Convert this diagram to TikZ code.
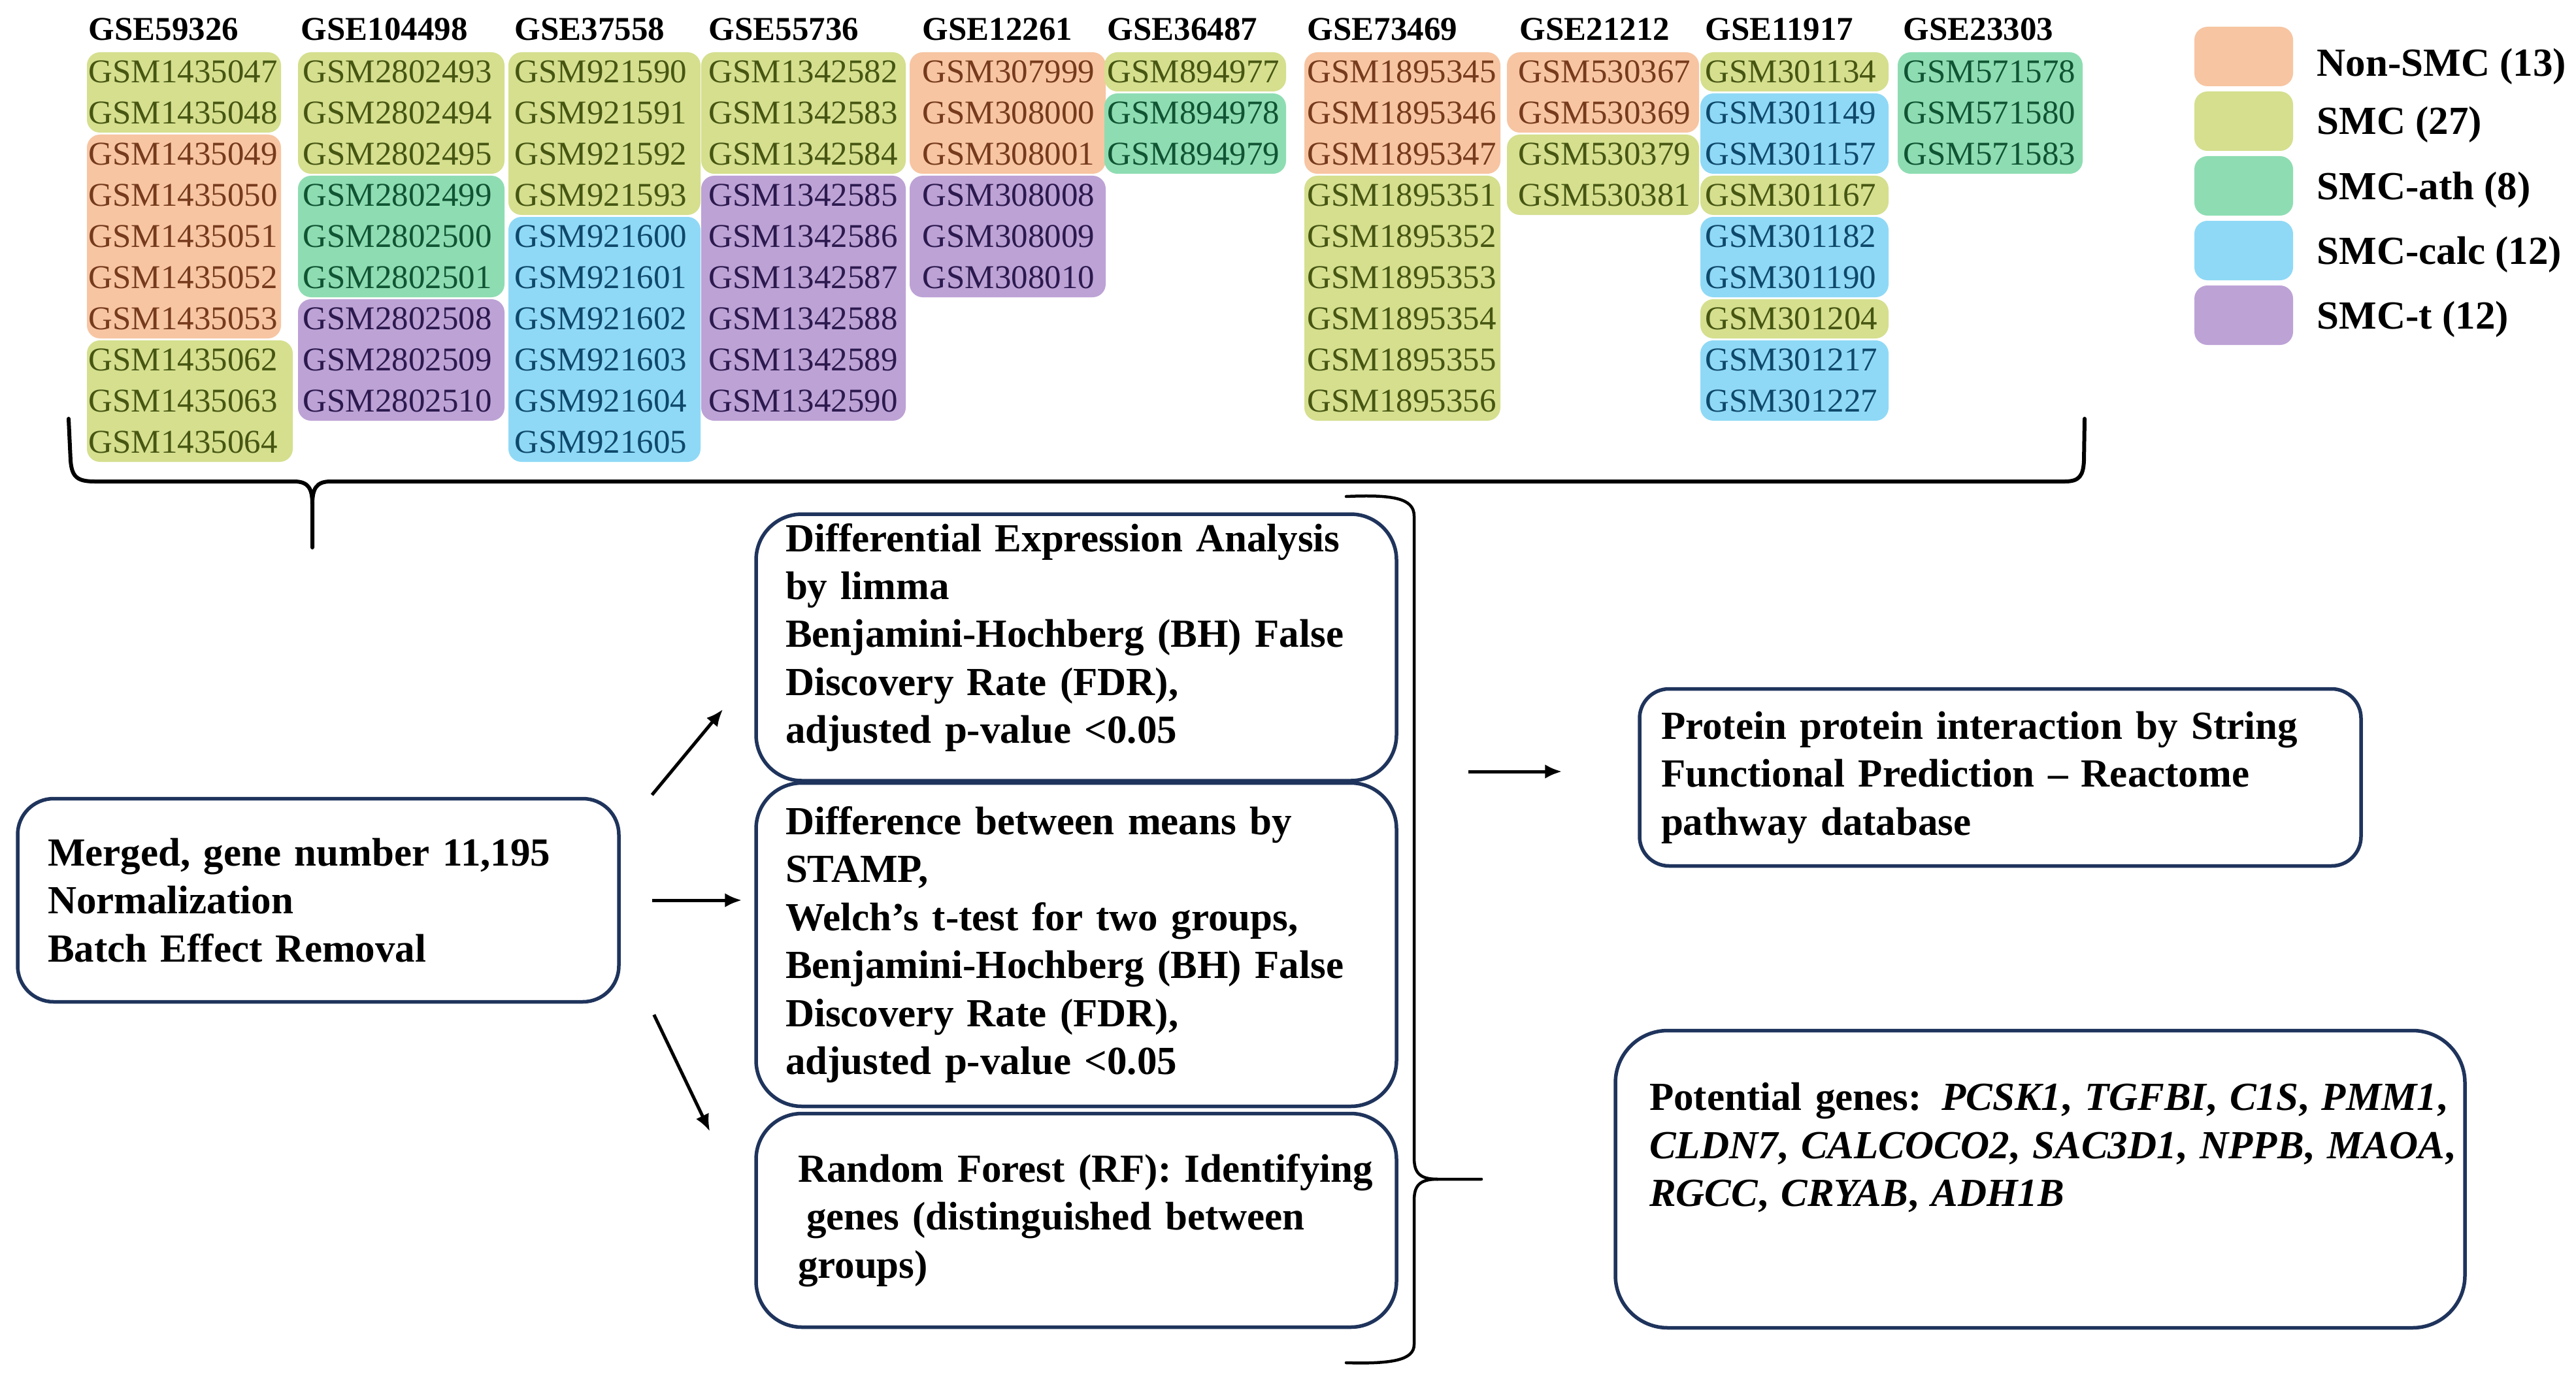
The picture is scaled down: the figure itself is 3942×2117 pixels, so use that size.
\documentclass[tikz,border=0pt]{standalone}
\usepackage{fontspec}
\setmainfont{Liberation Serif}
\usetikzlibrary{arrows.meta}

\definecolor{nonsmc}{RGB}{247,197,162}
\definecolor{smc}{RGB}{213,223,142}
\definecolor{smcath}{RGB}{142,221,178}
\definecolor{smccalc}{RGB}{143,217,246}
\definecolor{smct}{RGB}{189,162,214}
\definecolor{txtnonsmc}{RGB}{118,58,28}
\definecolor{txtsmc}{RGB}{70,86,18}
\definecolor{txtsmcath}{RGB}{16,84,52}
\definecolor{txtsmccalc}{RGB}{14,72,106}
\definecolor{txtsmct}{RGB}{44,26,78}
\definecolor{navy}{RGB}{31,52,92}

\newcommand\cellfont{\fontsize{14.5}{17}\selectfont}
\newcommand\boxfont{\fontsize{17.36}{20.9}\selectfont\bfseries}

\begin{document}
\begin{tikzpicture}[x=0.1mm, y=-0.1mm
    , cell/.style = {anchor=west, inner sep=0pt, font=\cellfont}
    , head/.style = {anchor=west, inner sep=0pt, font=\cellfont\bfseries}
    , hl/.style = {rounded corners=2mm}
    , stepbox/.style = {draw=navy, line width=0.55mm, rounded corners=#1, align=left, font=\boxfont, inner ysep=0pt}
    , stepbox/.default = 6mm
    , arr/.style = {-{Latex[length=2.6mm,width=2.2mm]}, line width=0.5mm}
    , bracepath/.style = {line width=0.6mm, line cap=round}
]
\fill[white] (0,0) rectangle (3942,2117);

% GSE59326
\node[head] (g1) at (135,45) {GSE59326};
\foreach \a/\b/\grp in {1/2/smc, 3/7/nonsmc}
    \fill[fill=\grp, hl] (133,{17+63*\a}) rectangle (430,{77+63*\b});
\fill[fill=smc, hl] (133,521) rectangle (448,707);
\foreach \gsm/\grp [count=\row] in {GSM1435047/smc, GSM1435048/smc, GSM1435049/nonsmc, GSM1435050/nonsmc, GSM1435051/nonsmc, GSM1435052/nonsmc, GSM1435053/nonsmc, GSM1435062/smc, GSM1435063/smc, GSM1435064/smc}
    \node[cell, text=txt\grp] (c1-\row) at (135,{47+63*\row}) {\gsm};

% GSE104498
\node[head] (g2) at (460,45) {GSE104498};
\foreach \a/\b/\grp in {1/3/smc, 4/6/smcath, 7/9/smct}
    \fill[fill=\grp, hl] (456,{17+63*\a}) rectangle (772,{77+63*\b});
\foreach \gsm/\grp [count=\row] in {GSM2802493/smc, GSM2802494/smc, GSM2802495/smc, GSM2802499/smcath, GSM2802500/smcath, GSM2802501/smcath, GSM2802508/smct, GSM2802509/smct, GSM2802510/smct}
    \node[cell, text=txt\grp] (c2-\row) at (463,{47+63*\row}) {\gsm};

% GSE37558
\node[head] (g3) at (787,45) {GSE37558};
\foreach \a/\b/\grp in {1/4/smc, 5/10/smccalc}
    \fill[fill=\grp, hl] (778,{17+63*\a}) rectangle (1072,{77+63*\b});
\foreach \gsm/\grp [count=\row] in {GSM921590/smc, GSM921591/smc, GSM921592/smc, GSM921593/smc, GSM921600/smccalc, GSM921601/smccalc, GSM921602/smccalc, GSM921603/smccalc, GSM921604/smccalc, GSM921605/smccalc}
    \node[cell, text=txt\grp] (c3-\row) at (787,{47+63*\row}) {\gsm};

% GSE55736
\node[head] (g4) at (1084,45) {GSE55736};
\foreach \a/\b/\grp in {1/3/smc, 4/9/smct}
    \fill[fill=\grp, hl] (1073,{17+63*\a}) rectangle (1386,{77+63*\b});
\foreach \gsm/\grp [count=\row] in {GSM1342582/smc, GSM1342583/smc, GSM1342584/smc, GSM1342585/smct, GSM1342586/smct, GSM1342587/smct, GSM1342588/smct, GSM1342589/smct, GSM1342590/smct}
    \node[cell, text=txt\grp] (c4-\row) at (1084,{47+63*\row}) {\gsm};

% GSE12261
\node[head] (g5) at (1411,45) {GSE12261};
\foreach \a/\b/\grp in {1/3/nonsmc, 4/6/smct}
    \fill[fill=\grp, hl] (1392,{17+63*\a}) rectangle (1692,{77+63*\b});
\foreach \gsm/\grp [count=\row] in {GSM307999/nonsmc, GSM308000/nonsmc, GSM308001/nonsmc, GSM308008/smct, GSM308009/smct, GSM308010/smct}
    \node[cell, text=txt\grp] (c5-\row) at (1411,{47+63*\row}) {\gsm};

% GSE36487
\node[head] (g6) at (1694,45) {GSE36487};
\foreach \a/\b/\grp in {1/1/smc, 2/3/smcath}
    \fill[fill=\grp, hl] (1690,{17+63*\a}) rectangle (1968,{77+63*\b});
\foreach \gsm/\grp [count=\row] in {GSM894977/smc, GSM894978/smcath, GSM894979/smcath}
    \node[cell, text=txt\grp] (c6-\row) at (1694,{47+63*\row}) {\gsm};

% GSE73469
\node[head] (g7) at (2000,45) {GSE73469};
\foreach \a/\b/\grp in {1/3/nonsmc, 4/9/smc}
    \fill[fill=\grp, hl] (1996,{17+63*\a}) rectangle (2296,{77+63*\b});
\foreach \gsm/\grp [count=\row] in {GSM1895345/nonsmc, GSM1895346/nonsmc, GSM1895347/nonsmc, GSM1895351/smc, GSM1895352/smc, GSM1895353/smc, GSM1895354/smc, GSM1895355/smc, GSM1895356/smc}
    \node[cell, text=txt\grp] (c7-\row) at (2000,{47+63*\row}) {\gsm};

% GSE21212
\node[head] (g8) at (2325,45) {GSE21212};
\foreach \a/\b/\grp in {1/2/nonsmc, 3/4/smc}
    \fill[fill=\grp, hl] (2306,{17+63*\a}) rectangle (2600,{77+63*\b});
\foreach \gsm/\grp [count=\row] in {GSM530367/nonsmc, GSM530369/nonsmc, GSM530379/smc, GSM530381/smc}
    \node[cell, text=txt\grp] (c8-\row) at (2323,{47+63*\row}) {\gsm};

% GSE11917
\node[head] (g9) at (2609,45) {GSE11917};
\foreach \a/\b/\grp in {1/1/smc, 2/3/smccalc, 4/4/smc, 5/6/smccalc, 7/7/smc, 8/9/smccalc}
    \fill[fill=\grp, hl] (2602,{17+63*\a}) rectangle (2890,{77+63*\b});
\foreach \gsm/\grp [count=\row] in {GSM301134/smc, GSM301149/smccalc, GSM301157/smccalc, GSM301167/smc, GSM301182/smccalc, GSM301190/smccalc, GSM301204/smc, GSM301217/smccalc, GSM301227/smccalc}
    \node[cell, text=txt\grp] (c9-\row) at (2609,{47+63*\row}) {\gsm};

% GSE23303
\node[head] (g10) at (2912,45) {GSE23303};
\fill[fill=smcath, hl] (2904,80) rectangle (3187,266);
\foreach \gsm/\grp [count=\row] in {GSM571578/smcath, GSM571580/smcath, GSM571583/smcath}
    \node[cell, text=txt\grp] (c10-\row) at (2912,{47+63*\row}) {\gsm};

% legend
\foreach \grp/\txt [count=\i] in {nonsmc/Non-SMC (13), smc/SMC (27), smcath/SMC-ath (8), smccalc/SMC-calc (12), smct/SMC-t (12)} {
    \fill[fill=\grp, hl] (3358,{-58+99*\i}) rectangle ++(151,91);
    \node[anchor=base west, inner sep=0pt, font=\boxfont] (key\i) at (3545,{8+99*\i+10*(\i==1)}) {\txt};
}

% braces
\draw[bracepath] (105,641) -- (108,705) .. controls (110,730) and (118,737) .. (145,737) -- (450,737) .. controls (472,737) and (478,748) .. (478,772) -- (478,838);
\draw[bracepath] (478,772) .. controls (478,748) and (484,737) .. (506,737) -- (3160,737) .. controls (3182,737) and (3188,728) .. (3189,705) -- (3190,641);
\draw[bracepath, line width=0.45mm] (2060,760) .. controls (2130,757) and (2164,762) .. (2164,790) -- (2164,1772) .. controls (2164,1795) and (2172,1805) .. (2200,1805) -- (2267,1805);
\draw[bracepath, line width=0.45mm] (2200,1805) .. controls (2172,1805) and (2164,1815) .. (2164,1838) -- (2164,2058) .. controls (2164,2082) and (2130,2088) .. (2060,2086);

% steps
\node[stepbox=5.5mm, minimum height=31.1mm, text width=82.8mm, inner xsep=4.6mm] (merged) at (487,1378)
    {Merged, gene number 11,195\\ Normalization\\ Batch Effect Removal};
\node[stepbox=7mm, minimum height=40.8mm, text width=89mm, inner xsep=4.5mm] (dea) at (1647,991)
    {Differential Expression Analysis\\ by limma\\ Benjamini-Hochberg (BH) False\\ Discovery Rate (FDR),\\ adjusted p-value <0.05\rule[-4.3mm]{0pt}{4.3mm}};
\node[stepbox=7mm, minimum height=49.5mm, text width=89mm, inner xsep=4.5mm] (stamp) at (1647,1446)
    {Difference between means by\\ STAMP,\\ Welch’s t-test for two groups,\\ Benjamini-Hochberg (BH) False\\ Discovery Rate (FDR),\\ adjusted p-value <0.05};
\node[stepbox=7mm, minimum height=32.7mm, text width=91mm, inner xsep=3.5mm] (rf) at (1647,1868)
    {\hspace*{2.9mm}Random Forest (RF): Identifying\\ \hspace*{4.2mm}genes (distinguished between\\ \hspace*{2.9mm}groups)};
\node[stepbox=4.5mm, minimum height=27.1mm, text width=103.8mm, inner xsep=3.3mm] (ppi) at (3061,1190)
    {Protein protein interaction by String\\ Functional Prediction – Reactome\\ pathway database};
\node[stepbox=8mm, minimum height=45.5mm, text width=119.6mm, inner xsep=5.2mm] (genes) at (3122,1805)
    {\mbox{Potential genes: \textit{PCSK1}, \textit{TGFBI}, \textit{C1S}, \textit{PMM1},}\\
     \mbox{\textit{CLDN7}, \textit{CALCOCO2}, \textit{SAC3D1}, \textit{NPPB}, \textit{MAOA},}\\
     \mbox{\textit{RGCC}, \textit{CRYAB}, \textit{ADH1B}}\rule[-10.6mm]{0pt}{10.6mm}};

% arrows
\draw[arr] ([xshift=4.8mm,yshift=0.3mm]merged.north east) -- ([xshift=-4.8mm,yshift=11.2mm]dea.south west);
\draw[arr, shorten <=4.8mm, shorten >=1.9mm] (merged.east) -- (stamp.west |- merged.east);
\draw[arr] ([xshift=5.1mm,yshift=-1.7mm]merged.south east) -- ([xshift=-6.8mm,yshift=-3mm]rf.north west);
\draw[arr] ([xshift=-25.9mm,yshift=0.9mm]ppi.west) -- ([xshift=-11.6mm,yshift=0.9mm]ppi.west);
\end{tikzpicture}
\end{document}
